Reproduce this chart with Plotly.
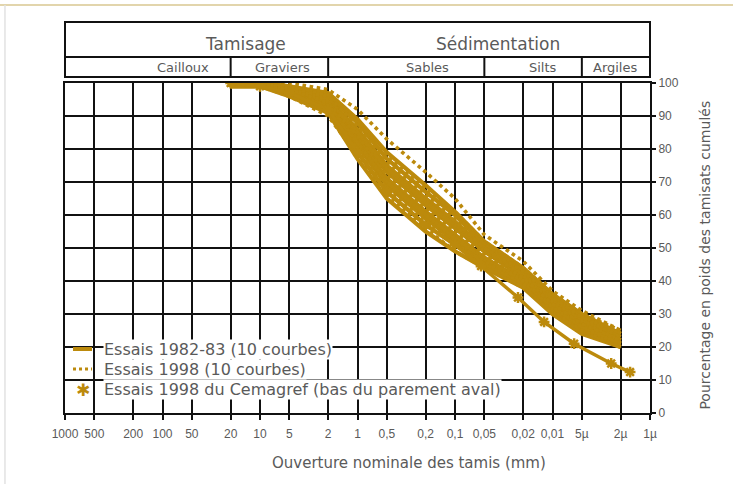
import math
import plotly.graph_objects as go

# ---------------- data ----------------
sieves = [20, 10, 5, 2, 1, 0.5, 0.2, 0.1, 0.05, 0.02, 0.01, 0.005, 0.002]

essais_1982 = [
    [100, 100, 99, 97, 89, 79, 69, 61, 52, 44, 36, 30, 24],
    [100, 100, 99, 96, 88, 77, 67, 60, 51, 43, 35, 29, 24],
    [100, 99, 98, 95, 86, 75, 65, 58, 50, 42, 34, 28, 23],
    [99, 99, 98, 94, 84, 73, 63, 56, 49, 41, 33, 27, 22],
    [100, 99, 97, 93, 83, 71, 61, 54, 47, 40, 33, 26, 21],
    [100, 99, 97, 92, 81, 69, 59, 52, 46, 39, 32, 26, 21],
    [99, 99, 97, 92, 79, 67, 57, 51, 45, 39, 31, 25, 20],
    [100, 99, 96, 91, 77, 65, 55, 49, 44, 38, 30, 24, 20],
    [100, 99, 97, 93, 82, 70, 60, 53, 47, 40, 32, 26, 21],
    [100, 100, 98, 95, 85, 74, 64, 57, 49, 42, 34, 28, 22],
]

essais_1998 = [
    [100, 100, 100, 98, 92, 83, 73, 65, 54, 46, 37, 31, 25],
    [100, 100, 99, 97, 88, 78, 68, 61, 52, 44, 36, 30, 25],
    [100, 100, 99, 96, 87, 77, 67, 59, 51, 43, 35, 29, 24],
    [100, 99, 98, 95, 85, 74, 64, 57, 50, 42, 34, 28, 23],
    [100, 99, 98, 94, 83, 72, 62, 55, 48, 41, 33, 27, 22],
    [100, 99, 97, 93, 82, 70, 60, 53, 47, 40, 33, 27, 22],
    [99, 99, 97, 92, 80, 68, 58, 51, 46, 39, 32, 26, 21],
    [100, 99, 96, 90, 78, 66, 56, 49, 44, 38, 31, 25, 20],
    [100, 100, 98, 96, 87, 76, 66, 58, 50, 43, 35, 29, 23],
    [100, 99, 98, 94, 84, 72, 62, 55, 48, 41, 33, 27, 22],
]

cemagref_sieves = [20, 10, 5, 2, 1, 0.5, 0.2, 0.1, 0.054, 0.0226, 0.0122, 0.006, 0.0025, 0.0016]
cemagref_pct = [100, 99, 97, 92, 79, 67, 57, 51, 44.5, 35, 27.6, 21, 15, 12.4]

tick_vals = [1000, 500, 200, 100, 50, 20, 10, 5, 2, 1, 0.5, 0.2, 0.1, 0.05, 0.02, 0.01, 0.005, 0.002, 0.001]
tick_text = ["1000", "500", "200", "100", "50", "20", "10", "5", "2", "1", "0,5", "0,2", "0,1",
             "0,05", "0,02", "0,01", "5µ", "2µ", "1µ"]
y_ticks = [0, 10, 20, 30, 40, 50, 60, 70, 80, 90, 100]

class_bounds = [20, 2, 0.05, 0.005]
class_names = ["Cailloux", "Graviers", "Sables", "Silts", "Argiles"]
class_label_pos = [0.2017, 0.3726, 0.619, 0.817, 0.940]
method_names = ["Tamisage", "Sédimentation"]
method_label_pos = [0.3077, 0.740]

legend_names = ["Essais 1982-83 (10 courbes)", "Essais 1998 (10 courbes)",
                "Essais 1998 du Cemagref (bas du parement aval)"]

# ---------------- style ----------------
GOLD = "#BC8A0C"
GREY = "#5a5a5a"
FONT = "DejaVu Sans"
LOG_HI, LOG_LO = 3, -3


def xfrac(d):
    return (LOG_HI - math.log10(d)) / (LOG_HI - LOG_LO)


fig = go.Figure()

for pct in essais_1982:
    fig.add_trace(go.Scatter(
        x=sieves, y=pct, mode="lines",
        line=dict(color=GOLD, width=4.2),
        name=legend_names[0], showlegend=False))

for pct in essais_1998:
    fig.add_trace(go.Scatter(
        x=sieves, y=pct, mode="lines",
        line=dict(color=GOLD, width=3.6, dash="dot"),
        name=legend_names[1], showlegend=False))

fig.add_trace(go.Scatter(
    x=cemagref_sieves, y=cemagref_pct, mode="lines+markers",
    line=dict(color=GOLD, width=3.4),
    marker=dict(symbol="asterisk", size=9, color=GOLD, line=dict(color=GOLD, width=2.5)),
    name=legend_names[2], showlegend=False))

shapes = []
# white cover behind the legend (hides gridlines)
shapes.append(dict(type="rect", xref="paper", yref="y", x0=0.002, x1=xfrac(0.015), y0=0.8, y1=28,
                   fillcolor="white", line=dict(width=0), layer="between"))

# header table
H_BOT, H_MID, H_TOP = 1.018, 1.0788, 1.185
shapes.append(dict(type="rect", xref="paper", yref="paper", x0=0, x1=1, y0=H_BOT, y1=H_TOP,
                   line=dict(color="#111", width=2), fillcolor="rgba(0,0,0,0)"))
shapes.append(dict(type="line", xref="paper", yref="paper", x0=0, x1=1, y0=H_MID, y1=H_MID,
                   line=dict(color="#111", width=2)))
for b in class_bounds:
    shapes.append(dict(type="line", xref="paper", yref="paper", x0=xfrac(b), x1=xfrac(b),
                       y0=H_BOT, y1=H_MID, line=dict(color="#111", width=2)))

# page frame lines
shapes.append(dict(type="line", xref="paper", yref="paper", x0=-0.12, x1=1.15, y0=1.236, y1=1.236,
                   line=dict(color="#d9c791", width=1.5)))
shapes.append(dict(type="line", xref="paper", yref="paper", x0=-0.1026, x1=-0.1026, y0=-0.22, y1=1.236,
                   line=dict(color="#e2e2e2", width=1.5)))

# hand-made legend (symbols + labels)
LEG_ROWS = [0.1939, 0.1333, 0.0697]
LEG_SYM_X0, LEG_SYM_X1, LEG_STAR_X, LEG_TEXT_X = 0.0137, 0.0462, 0.030, 0.065
shapes.append(dict(type="line", xref="paper", yref="paper", x0=LEG_SYM_X0, x1=LEG_SYM_X1,
                   y0=LEG_ROWS[0], y1=LEG_ROWS[0], line=dict(color=GOLD, width=4)))
shapes.append(dict(type="line", xref="paper", yref="paper", x0=LEG_SYM_X0, x1=LEG_SYM_X1,
                   y0=LEG_ROWS[1], y1=LEG_ROWS[1], line=dict(color=GOLD, width=3, dash="dot")))

annotations = []
annotations.append(dict(text="✱", xref="paper", yref="paper", x=LEG_STAR_X, y=LEG_ROWS[2],
                        xanchor="center", yanchor="middle", showarrow=False,
                        font=dict(family=FONT, size=17, color=GOLD)))
for name, yy in zip(legend_names, LEG_ROWS):
    annotations.append(dict(text=name, xref="paper", yref="paper", x=LEG_TEXT_X, y=yy,
                            xanchor="left", yanchor="middle", showarrow=False,
                            bgcolor="white", borderpad=0,
                            font=dict(family=FONT, size=16, color=GREY)))
for name, pos in zip(method_names, method_label_pos):
    annotations.append(dict(text=name, xref="paper", yref="paper", x=pos, y=1.117,
                            xanchor="center", yanchor="middle",
                            showarrow=False, font=dict(family=FONT, size=17, color=GREY)))
for name, pos in zip(class_names, class_label_pos):
    annotations.append(dict(text=name, xref="paper", yref="paper", x=pos, y=1.048,
                            xanchor="center", yanchor="middle",
                            showarrow=False, font=dict(family=FONT, size=13, color=GREY)))
annotations.append(dict(text="Ouverture nominale des tamis (mm)", xref="paper", yref="paper",
                        x=0.588, y=-0.152, xanchor="center", yanchor="middle", showarrow=False,
                        font=dict(family=FONT, size=15, color=GREY)))
annotations.append(dict(text="Pourcentage en poids des tamisats cumulés", xref="paper", yref="paper",
                        x=1.094, y=0.48, xanchor="center", yanchor="middle",
                        textangle=-90, showarrow=False,
                        font=dict(family=FONT, size=14, color=GREY)))

fig.update_layout(
    width=733, height=484,
    margin=dict(l=65, r=83, t=83, b=71),
    paper_bgcolor="white", plot_bgcolor="white",
    shapes=shapes, annotations=annotations,
    showlegend=False,
    xaxis=dict(type="log", range=[LOG_HI, LOG_LO], tickvals=tick_vals, ticktext=tick_text,
               showgrid=True, gridcolor="#111", gridwidth=2,
               showline=True, linecolor="#111", linewidth=2, mirror=True,
               ticks="outside", ticklen=5, tickwidth=2, tickcolor="#111",
               ticklabelstandoff=4,
               tickfont=dict(family="Liberation Sans", size=12, color=GREY),
               zeroline=False),
    yaxis=dict(range=[0, 100], side="right", tickvals=y_ticks,
               showgrid=True, gridcolor="#111", gridwidth=2,
               showline=True, linecolor="#111", linewidth=2, mirror=True,
               ticks="outside", ticklen=4, tickwidth=2, tickcolor="#111",
               tickfont=dict(family="Liberation Sans", size=12, color=GREY),
               zeroline=False),
)

fig.write_html("out.html", config={"displayModeBar": False},
               post_script="document.body.style.margin='0';")
